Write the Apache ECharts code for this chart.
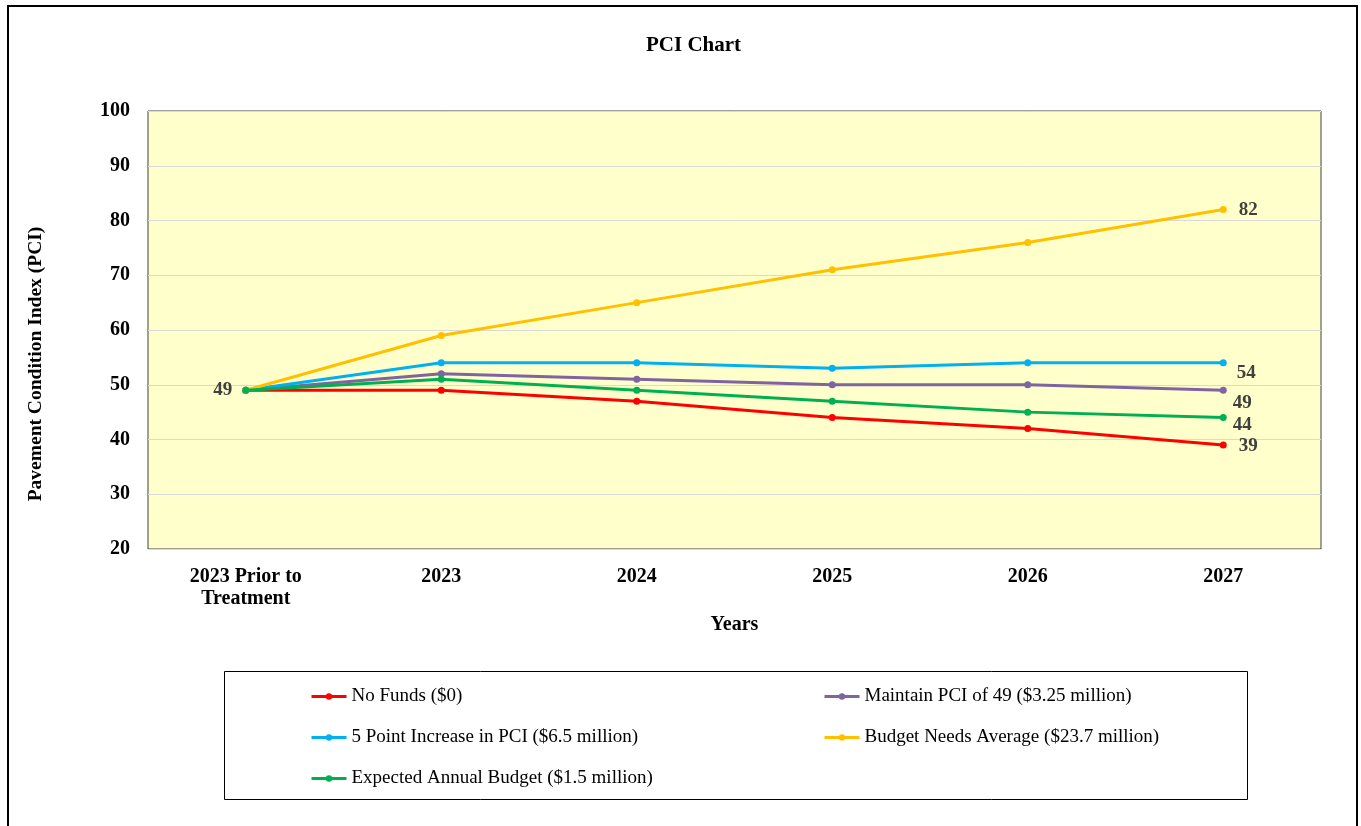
<!DOCTYPE html>
<html lang="en">
  <head>
    <meta charset="UTF-8" />
    <script src="https://cdn.jsdelivr.net/npm/echarts@6/dist/echarts.min.js"></script>
    <title>PCI Chart</title>
  </head>
  <body style="margin: 0">
    <div id="main" style="width: 1361px; height: 826px"></div>
    <script>
      var categories = ["2023 Prior to\nTreatment", "2023", "2024", "2025", "2026", "2027"];
      var noFunds = [49, 49, 47, 44, 42, 39];
      var maintainPci = [49, 52, 51, 50, 50, 49];
      var fivePoint = [49, 54, 54, 53, 54, 54];
      var budgetNeeds = [49, 59, 65, 71, 76, 82];
      var expectedBudget = [49, 51, 49, 47, 45, 44];

      var names = [
        "No Funds ($0)",
        "Maintain PCI of 49 ($3.25 million)",
        "5 Point Increase in PCI ($6.5 million)",
        "Budget Needs Average ($23.7 million)",
        "Expected Annual Budget ($1.5 million)",
      ];
      var colors = ["#FF0000", "#8064A2", "#00B0F0", "#FFC000", "#00B050"];
      var values = [noFunds, maintainPci, fivePoint, budgetNeeds, expectedBudget];
      // nudges for the end labels so they don't sit on each other
      var endOffsets = [[7, 1], [1, 13], [5, 10], [7, 1], [1, 7]];

      var font = "'Liberation Serif', 'Times New Roman', serif";

      var chart = echarts.init(document.getElementById("main"));

      var series = values.map(function (vals, i) {
        var data = vals.map(function (v, j) {
          var item = { value: v };
          if (j === vals.length - 1) {
            item.label = { show: true, position: "right", offset: endOffsets[i] };
          }
          if (j === 0 && i === 4) {
            item.label = { show: true, position: "left", offset: [-5, 0] };
          }
          return item;
        });
        return {
          name: names[i],
          type: "line",
          data: data,
          symbol: "circle",
          symbolSize: 7,
          lineStyle: { width: 3, color: colors[i] },
          itemStyle: { color: colors[i] },
          label: {
            show: false,
            color: "#404040",
            fontFamily: font,
            fontWeight: "bold",
            fontSize: 19,
          },
        };
      });

      var legendText = { fontFamily: font, fontSize: 19, color: "#000" };
      var axisFont = { fontFamily: font, fontWeight: "bold", fontSize: 20, color: "#000" };

      var option = {
        animation: false,
        title: {
          text: "PCI Chart",
          left: 641,
          top: 30,
          textStyle: { fontFamily: font, fontWeight: "bold", fontSize: 21, color: "#000" },
        },
        graphic: [
          {
            type: "rect",
            shape: { x: 8, y: 6, width: 1349, height: 840 },
            style: { fill: null, stroke: "#000", lineWidth: 2 },
            z: -1,
          },
          {
            type: "rect",
            shape: { x: 224.5, y: 671.5, width: 1023, height: 128 },
            style: { fill: null, stroke: "#000", lineWidth: 1 },
          },
        ],
        legend: [
          {
            data: [names[0], names[2], names[4]],
            orient: "vertical",
            left: 305,
            top: 682,
            itemWidth: 35,
            itemHeight: 8,
            itemGap: 22,
            lineStyle: { width: 3 },
            textStyle: legendText,
          },
          {
            data: [names[1], names[3]],
            orient: "vertical",
            left: 818,
            top: 682,
            itemWidth: 35,
            itemHeight: 8,
            itemGap: 22,
            lineStyle: { width: 3 },
            textStyle: legendText,
          },
        ],
        grid: {
          left: 148,
          right: 40,
          top: 111,
          bottom: 277,
          show: true,
          backgroundColor: "#FFFFCC",
          borderColor: "#404040",
          borderWidth: 1,
        },
        xAxis: {
          type: "category",
          data: categories,
          boundaryGap: true,
          name: "Years",
          nameLocation: "middle",
          nameGap: 64,
          nameTextStyle: axisFont,
          axisLine: { show: false },
          axisTick: { show: false },
          axisLabel: Object.assign({ margin: 17, lineHeight: 22 }, axisFont),
        },
        yAxis: {
          type: "value",
          min: 20,
          max: 100,
          interval: 10,
          name: "Pavement Condition Index (PCI)",
          nameLocation: "middle",
          nameGap: 102,
          // title sits a little below the middle of the plot in the original
          nameTextStyle: {
            fontFamily: font,
            fontWeight: "bold",
            fontSize: 19.5,
            color: "#000",
            padding: [0, 68, 0, 0],
          },
          axisLine: { show: false },
          axisTick: { show: false },
          axisLabel: Object.assign({ margin: 18 }, axisFont),
          splitLine: { lineStyle: { color: "#D9D9D9", width: 1 } },
        },
        series: series,
      };

      chart.setOption(option);
    </script>
  </body>
</html>
